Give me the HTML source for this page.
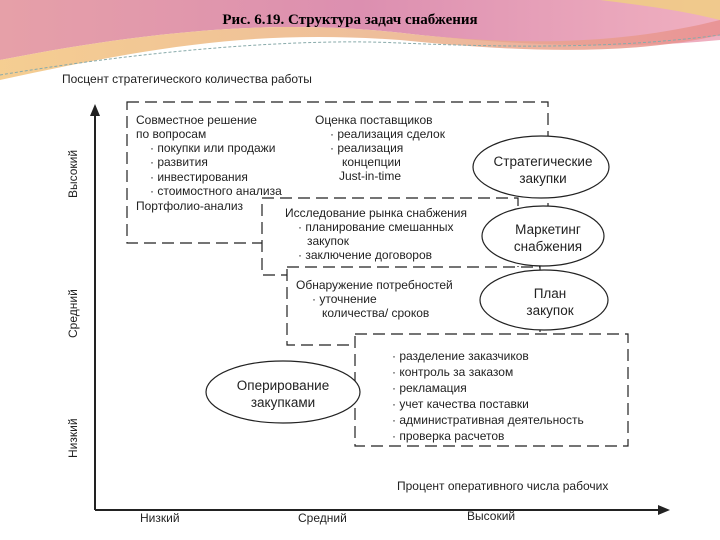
<!DOCTYPE html>
<html><head><meta charset="utf-8"><style>
body{margin:0;width:720px;height:540px;overflow:hidden;background:#fff;font-family:"Liberation Sans",sans-serif;}
svg{position:absolute;left:0;top:0}
</style></head><body>
<svg width="720" height="540" viewBox="0 0 720 540">
<defs>
<linearGradient id="g1" x1="0" y1="0" x2="1" y2="0"><stop offset="0" stop-color="#e6a0a8"/><stop offset="0.5" stop-color="#dc8fb0"/><stop offset="1" stop-color="#f0b0c0"/></linearGradient>
<linearGradient id="g2" x1="0" y1="0" x2="1" y2="0"><stop offset="0" stop-color="#f3c57e"/><stop offset="0.6" stop-color="#eab08a"/><stop offset="1" stop-color="#e89090"/></linearGradient>
</defs>
<path d="M0 0 H720 V40 C620 50 520 45 420 35 C300 20 180 25 0 60 Z" fill="url(#g1)"/>
<path d="M360 0 H720 V20 C680 10 640 5 600 0 Z" fill="#f0d080" opacity="0.8"/>
<path d="M0 60 C180 25 300 20 420 35 C520 45 620 45 720 20 V35 C620 58 500 50 400 40 C260 30 160 45 0 80 Z" fill="url(#g2)" opacity="0.85"/>
<path d="M0 75 C150 50 300 38 400 43 C520 48 620 48 720 35" fill="none" stroke="#8aa" stroke-width="1" stroke-dasharray="3,2"/>
<text x="350" y="24" font-family="Liberation Serif,serif" font-weight="bold" font-size="15" text-anchor="middle">Рис. 6.19. Структура задач снабжения</text>
<g font-size="12" fill="#222">
<text x="62" y="83">Посцент стратегического количества работы</text>
<g stroke="#222" stroke-width="2" fill="none">
<line x1="95" y1="112" x2="95" y2="510"/>
<line x1="95" y1="510" x2="662" y2="510"/>
</g>
<polygon points="95,104 90,116 100,116" fill="#222"/>
<polygon points="670,510 658,505 658,515" fill="#222"/>
<text transform="translate(77,198) rotate(-90)">Высокий</text>
<text transform="translate(77,338) rotate(-90)">Средний</text>
<text transform="translate(77,458) rotate(-90)">Низкий</text>
<text x="140" y="522">Низкий</text>
<text x="298" y="522">Средний</text>
<text x="467" y="520">Высокий</text>
<text x="397" y="490">Процент оперативного числа рабочих</text>
<g stroke="#222" stroke-width="1.2" fill="none" stroke-dasharray="12,6">
<rect x="127" y="102" width="421" height="141"/>
<rect x="262" y="198" width="256" height="77" fill="#fff"/>
<rect x="287" y="267" width="253" height="78" fill="#fff"/>
<rect x="355" y="334" width="273" height="112" fill="#fff"/>
</g>
<text x="136" y="124">Совместное решение</text>
<text x="136" y="138">по вопросам</text>
<text x="150" y="152">· покупки или продажи</text>
<text x="150" y="166">· развития</text>
<text x="150" y="181">· инвестирования</text>
<text x="150" y="195">· стоимостного анализа</text>
<text x="136" y="210">Портфолио-анализ</text>
<text x="315" y="124">Оценка поставщиков</text>
<text x="330" y="138">· реализация сделок</text>
<text x="330" y="152">· реализация</text>
<text x="342" y="166">концепции</text>
<text x="339" y="180">Just-in-time</text>
<text x="285" y="217">Исследование рынка снабжения</text>
<text x="298" y="231">· планирование смешанных</text>
<text x="307" y="245">закупок</text>
<text x="298" y="259">· заключение договоров</text>
<text x="296" y="289">Обнаружение потребностей</text>
<text x="312" y="303">· уточнение</text>
<text x="322" y="317">количества/ сроков</text>
<text x="392" y="360">· разделение заказчиков</text>
<text x="392" y="376">· контроль за заказом</text>
<text x="392" y="392">· рекламация</text>
<text x="392" y="408">· учет качества поставки</text>
<text x="392" y="424">· административная деятельность</text>
<text x="392" y="440">· проверка расчетов</text>
<g stroke="#222" stroke-width="1.2" fill="#fff">
<ellipse cx="541" cy="167" rx="68" ry="31"/>
<ellipse cx="543" cy="236" rx="61" ry="30"/>
<ellipse cx="544" cy="300" rx="64" ry="30"/>
<ellipse cx="283" cy="392" rx="77" ry="31"/>
</g>
<g font-size="13.5" text-anchor="middle">
<text x="543" y="166">Стратегические</text>
<text x="543" y="183">закупки</text>
<text x="548" y="234">Маркетинг</text>
<text x="548" y="251">снабжения</text>
<text x="550" y="298">План</text>
<text x="550" y="315">закупок</text>
<text x="283" y="390">Оперирование</text>
<text x="283" y="407">закупками</text>
</g>
</g>
</svg>
</body></html>
